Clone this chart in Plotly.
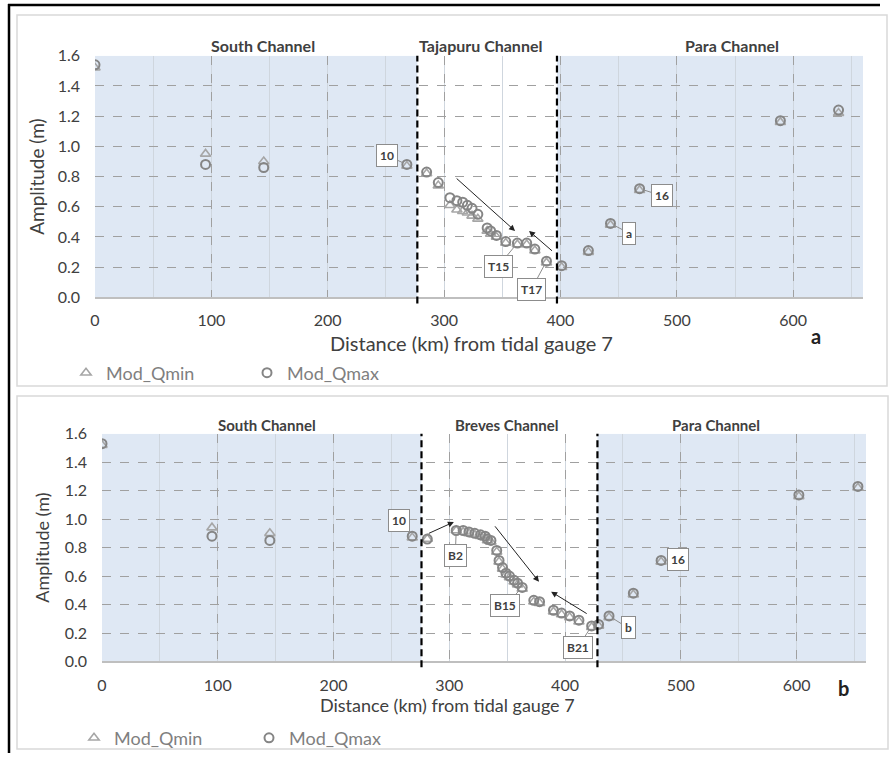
import plotly.graph_objects as go

# ---------------- data ----------------
dist_a = [0, 95, 145, 268, 285, 295, 305, 311, 316, 320, 324, 329, 337, 340, 345, 353, 363, 371, 378, 388, 401, 424, 443, 468, 589, 639]
qmax_a = [1.54, 0.88, 0.86, 0.88, 0.83, 0.76, 0.66, 0.64, 0.63, 0.61, 0.59, 0.55, 0.46, 0.44, 0.41, 0.37, 0.36, 0.36, 0.32, 0.24, 0.21, 0.31, 0.49, 0.72, 1.17, 1.24]
qmin_a = [1.52, 0.95, 0.90, 0.87, 0.82, 0.74, 0.61, 0.58, 0.57, 0.56, 0.54, 0.52, 0.44, 0.42, 0.40, 0.36, 0.35, 0.35, 0.31, 0.23, 0.20, 0.30, 0.48, 0.71, 1.16, 1.22]

dist_b = [0, 95, 145, 268, 281, 306, 312, 317, 322, 327, 331, 333, 336, 341, 343, 346, 349, 352, 356, 359, 363, 373, 378, 390, 397, 404, 412, 423, 429, 438, 459, 483, 602, 653]
qmax_b = [1.53, 0.88, 0.85, 0.88, 0.86, 0.92, 0.92, 0.91, 0.90, 0.89, 0.88, 0.86, 0.85, 0.78, 0.71, 0.66, 0.62, 0.60, 0.57, 0.55, 0.52, 0.43, 0.42, 0.36, 0.34, 0.32, 0.29, 0.25, 0.26, 0.32, 0.48, 0.71, 1.17, 1.23]
qmin_b = [1.52, 0.94, 0.90, 0.87, 0.86, 0.92, 0.91, 0.90, 0.89, 0.88, 0.87, 0.85, 0.84, 0.77, 0.70, 0.65, 0.61, 0.59, 0.56, 0.54, 0.51, 0.42, 0.41, 0.35, 0.33, 0.31, 0.28, 0.24, 0.25, 0.31, 0.47, 0.70, 1.16, 1.22]

channels_a = ["South Channel", "Tajapuru Channel", "Para Channel"]
channels_b = ["South Channel", "Breves Channel", "Para Channel"]
bounds_a = [277, 397]
bounds_b = [276, 428]

labels_a = [("10", 268, 0.88, -20, -9), ("T15", 363, 0.36, -19, 23), ("T17", 388, 0.24, -15, 28),
            ("a", 443, 0.49, 19, 10), ("16", 468, 0.72, 22, 7)]
labels_b = [("10", 268, 0.88, -13, -16), ("B2", 306, 0.92, -1, 25), ("B15", 363, 0.52, -17, 18),
            ("B21", 423, 0.25, -14, 22), ("b", 438, 0.32, 19, 12), ("16", 483, 0.71, 17, -1)]
arrows_a = [(309.5, 0.796, 361, 0.44), (394, 0.30, 373, 0.44)]
arrows_b = [(281, 0.895, 304, 0.98), (338.5, 0.96, 377.5, 0.56), (420, 0.33, 388, 0.49)]

xticks = [0, 100, 200, 300, 400, 500, 600]

# ---------------- helpers ----------------
W, H = 889, 757
def px(x):
    return x / W
def py(y):
    return 1 - y / H

FONT = "Lato, 'Open Sans', sans-serif"
TXT = "#404040"
BLUE = "#dfe8f4"

fig = go.Figure()

fig.add_trace(go.Scatter(x=dist_a, y=qmin_a, mode="markers", name="Mod_Qmin",
                         marker=dict(symbol="triangle-up-open", size=9, color="#a6a6a6", line=dict(width=1.6)),
                         xaxis="x", yaxis="y", legend="legend"))
fig.add_trace(go.Scatter(x=dist_a, y=qmax_a, mode="markers", name="Mod_Qmax",
                         marker=dict(symbol="circle-open", size=9, color="#858585", line=dict(width=2)),
                         xaxis="x", yaxis="y", legend="legend"))
fig.add_trace(go.Scatter(x=dist_b, y=qmin_b, mode="markers", name="Mod_Qmin",
                         marker=dict(symbol="triangle-up-open", size=9, color="#a6a6a6", line=dict(width=1.6)),
                         xaxis="x2", yaxis="y2", legend="legend2"))
fig.add_trace(go.Scatter(x=dist_b, y=qmax_b, mode="markers", name="Mod_Qmax",
                         marker=dict(symbol="circle-open", size=9, color="#858585", line=dict(width=2)),
                         xaxis="x2", yaxis="y2", legend="legend2"))

def xax(domain, anchor, standoff):
    return dict(domain=domain, anchor=anchor, range=[0, 660], tickvals=xticks,
                showgrid=True, gridcolor="#a0a0a0", griddash="dash", gridwidth=1,
                minor=dict(dtick=50, tick0=0, showgrid=True, gridcolor="#cfd6de", griddash="solid", gridwidth=1),
                showline=True, linecolor="#bfbfbf", linewidth=1.5, zeroline=False, ticks="",
                tickfont=dict(family=FONT, size=16, color=TXT), ticklabelstandoff=standoff, automargin=False)

def yax(domain, anchor, standoff, size):
    return dict(domain=domain, anchor=anchor, range=[0, 1.6], dtick=0.2, tickformat=".1f",
                showgrid=True, gridcolor="#a0a0a0", griddash="dash", gridwidth=1,
                showline=False, zeroline=False, ticks="",
                tickfont=dict(family=FONT, size=16, color=TXT), ticklabelstandoff=14,
                title=dict(text="Amplitude (m)", font=dict(family=FONT, size=size, color=TXT), standoff=standoff),
                automargin=False)

fig.update_layout(
    width=W, height=H, margin=dict(l=0, r=0, t=0, b=0),
    paper_bgcolor="white", plot_bgcolor="white",
    xaxis=xax([px(95), px(863)], "y", 8),
    yaxis=yax([py(299), py(56)], "x", 7, 19),
    xaxis2=xax([px(102), px(866)], "y2", 9),
    yaxis2=yax([py(665), py(436)], "x2", 10, 18),
    legend=dict(orientation="h", x=px(66), y=py(375), xanchor="left", yanchor="middle",
                font=dict(family=FONT, size=18, color="#7f7f7f"), entrywidth=136, bgcolor="rgba(0,0,0,0)"),
    legend2=dict(orientation="h", x=px(74), y=py(742), xanchor="left", yanchor="middle",
                 font=dict(family=FONT, size=18, color="#7f7f7f"), entrywidth=130, bgcolor="rgba(0,0,0,0)"),
)

shapes = []
# outer frame lines
shapes.append(dict(type="line", xref="paper", yref="paper", x0=px(8), x1=px(880), y0=py(5), y1=py(5),
                   line=dict(color="black", width=2.5)))
shapes.append(dict(type="line", xref="paper", yref="paper", x0=px(9), x1=px(9), y0=py(4), y1=py(757),
                   line=dict(color="black", width=2.5)))
# panel frames
shapes.append(dict(type="rect", xref="paper", yref="paper", x0=px(17), x1=px(887), y0=py(388), y1=py(15),
                   line=dict(color="#d9d9d9", width=1.5)))
shapes.append(dict(type="rect", xref="paper", yref="paper", x0=px(17), x1=px(888), y0=py(753), y1=py(398),
                   line=dict(color="#d9d9d9", width=1.5)))
# channel shading and boundaries
for xr, yr, b in (("x", "y", bounds_a), ("x2", "y2", bounds_b)):
    shapes.append(dict(type="rect", xref=xr, yref=yr, x0=0, x1=b[0], y0=0, y1=1.6,
                       fillcolor=BLUE, line=dict(width=0), layer="below"))
    shapes.append(dict(type="rect", xref=xr, yref=yr, x0=b[1], x1=660, y0=0, y1=1.6,
                       fillcolor=BLUE, line=dict(width=0), layer="below"))
    for v in b:
        shapes.append(dict(type="line", xref=xr, yref=yr + " domain", x0=v, x1=v, y0=-0.025, y1=1.0,
                           line=dict(color="black", width=2.2, dash="7px,4px")))
fig.update_layout(shapes=shapes)

def ptext(text, x, y, size, color=TXT):
    return dict(text=text, xref="paper", yref="paper", x=px(x), y=py(y), xanchor="center", yanchor="middle",
                showarrow=False, font=dict(family=FONT, size=size, color=color))

ann = []
# channel titles
for name, cx in zip(channels_a, [263, 480, 732]):
    ann.append(ptext("<b>%s</b>" % name, cx, 46, 16))
for name, cx in zip(channels_b, [267, 507, 716]):
    ann.append(ptext("<b>%s</b>" % name, cx, 427, 15))
# x titles
ann.append(ptext("Distance (km) from tidal gauge 7", 471, 345, 20))
ann.append(ptext("Distance (km) from tidal gauge 7", 447, 709, 18))
# panel letters
ann.append(ptext("<b>a</b>", 816, 338, 20, "#222222"))
ann.append(ptext("<b>b</b>", 843, 692, 20, "#222222"))
# point labels
for lab, xr, yr in ((labels_a, "x", "y"), (labels_b, "x2", "y2")):
    for t, x, y, ax, ay in lab:
        ann.append(dict(text="<b>%s</b>" % t, x=x, y=y, xref=xr, yref=yr, ax=ax, ay=ay,
                        showarrow=True, arrowhead=0, arrowwidth=1, arrowcolor="#8c8c8c", standoff=4,
                        bordercolor="#8c8c8c", borderwidth=1, borderpad=3, bgcolor="white",
                        font=dict(family=FONT, size=12, color=TXT)))
# trend arrows
for arr, xr, yr in ((arrows_a, "x", "y"), (arrows_b, "x2", "y2")):
    for x0, y0, x1, y1 in arr:
        ann.append(dict(text="", x=x1, y=y1, ax=x0, ay=y0, xref=xr, yref=yr, axref=xr, ayref=yr,
                        showarrow=True, arrowhead=2, arrowsize=1.2, arrowwidth=1, arrowcolor="#222222"))
fig.update_layout(annotations=ann)

fig.write_html("out.html", config={"displayModeBar": False},
               post_script="document.body.style.margin='0px';")
